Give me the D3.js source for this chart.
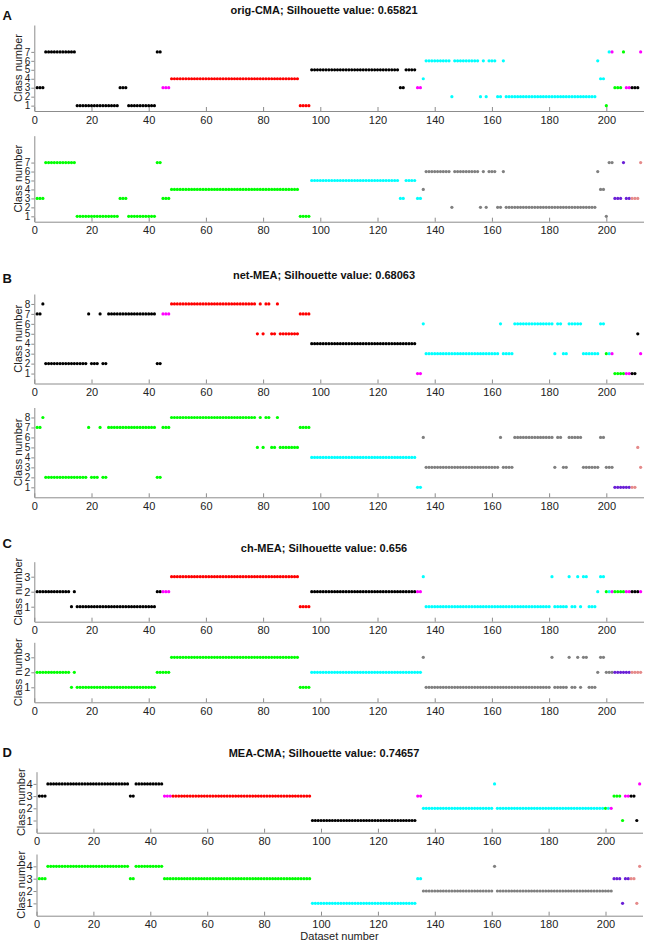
<!DOCTYPE html>
<html lang="en">
<head>
<meta charset="UTF-8">
<title>Class number per dataset</title>
<script src="https://cdn.jsdelivr.net/npm/d3@7/dist/d3.min.js"></script>
<style>
    body { margin: 0; background: #fff; }
    svg { display: block; font-family: "Liberation Sans", Arial, sans-serif; }
    .axis path, .axis line { stroke: #8c8c8c; stroke-width: 1; }
    .axis text { fill: #222; font-size: 11px; font-family: "Liberation Sans", Arial, sans-serif; }
    .axis.tight text { font-size: 10px; }
    .ylab { font-size: 11px; fill: #222; }
    .title { font-size: 11px; font-weight: bold; fill: #111; }
    .letter { font-size: 13px; font-weight: bold; fill: #111; }
</style>
</head>
<body>
<script>
    // [first dataset, last dataset, class number]
    const classRunsA = [[1,3,3],[4,14,7],[15,29,1],[30,32,3],[33,42,1],[43,44,7],[45,47,3],[48,92,4],[93,96,1],
        [97,127,5],[128,129,3],[130,133,5],[134,135,3],[136,136,4],[137,145,6],[146,146,2],[147,155,6],[156,156,2],
        [157,157,6],[158,158,2],[159,161,6],[162,163,2],[164,164,6],[165,196,2],[197,197,6],[198,199,4],[200,200,1],
        [201,202,7],[203,205,3],[206,206,7],[207,211,3],[212,212,7]];
    const classRunsB = [[1,2,7],[3,3,8],[4,18,2],[19,19,7],[20,22,2],[23,23,7],[24,25,2],[26,42,7],[43,44,2],
        [45,47,7],[48,77,8],[78,78,5],[79,79,8],[80,80,5],[81,82,8],[83,84,5],[85,85,8],[86,92,5],[93,96,7],
        [97,133,4],[134,135,1],[136,136,6],[137,162,3],[163,163,6],[164,167,3],[168,181,6],[182,182,3],[183,184,6],
        [185,186,3],[187,191,6],[192,197,3],[198,199,6],[200,202,3],[203,210,1],[211,211,5],[212,212,3]];
    const classRunsC = [[1,12,2],[13,13,1],[14,14,2],[15,42,1],[43,47,2],[48,92,3],[93,96,1],[97,135,2],
        [136,136,3],[137,180,1],[181,181,3],[182,186,1],[187,187,3],[188,189,1],[190,190,3],[191,191,1],
        [192,193,3],[194,196,1],[197,197,2],[198,199,3],[200,212,2]];
    const classRunsD = [[1,3,3],[4,32,4],[33,34,3],[35,44,4],[45,96,3],[97,133,1],[134,135,3],[136,160,2],
        [161,161,4],[162,202,2],[203,205,3],[206,206,1],[207,210,3],[211,211,1],[212,212,4]];

    // colour groups: upper plots and lower plots
    const upperGroups = [[1,44,'k'],[45,47,'m'],[48,96,'r'],[97,133,'k'],[134,135,'m'],[136,199,'c'],[200,200,'g'],
        [201,201,'c'],[202,202,'m'],[203,206,'g'],[207,208,'m'],[209,211,'k'],[212,212,'m']];
    const lowerGroups = [[1,96,'g'],[97,135,'c'],[136,202,'gray'],[203,208,'p'],[209,212,'s']];

    const titles = ['orig-CMA; Silhouette value: 0.65821', 'net-MEA; Silhouette value: 0.68063',
        'ch-MEA; Silhouette value: 0.656', 'MEA-CMA; Silhouette value: 0.74657'];
    const letters = ['A', 'B', 'C', 'D'];
    const xTicks = [0, 20, 40, 60, 80, 100, 120, 140, 160, 180, 200];

    const groupColor = {k: '#000000', m: '#ff00ff', r: '#ff0000', c: '#00ffff', g: '#00ff00',
        gray: '#808080', p: '#6a1fd6', s: '#e58a8a'};

    // geometry of the figure
    const width = 649, height = 943;
    const layout = [
        {runs: classRunsA, left: 34.3, right: 643.5, letterY: 20, titleY: 13.5, yDom: [0.4, 10], tight: true,
            subs: [{top: 25, bottom: 111}, {top: 135.7, bottom: 221.7}]},
        {runs: classRunsB, left: 34.3, right: 643.5, letterY: 283, titleY: 278.5, yDom: [0, 9], tight: true,
            subs: [{top: 294, bottom: 383.5}, {top: 407.5, bottom: 497.3}]},
        {runs: classRunsC, left: 34.3, right: 643.5, letterY: 548, titleY: 551.5, yDom: [0, 4], tight: false,
            subs: [{top: 561.7, bottom: 621.7}, {top: 642.3, bottom: 702.3}]},
        {runs: classRunsD, left: 36.5, right: 642.5, letterY: 757, titleY: 757, yDom: [0, 5], tight: false,
            subs: [{top: 771.7, bottom: 832.7}, {top: 854, bottom: 915.7}]}
    ];

    function expand(runs) {
        let out = [];
        runs.forEach(r => {
            for (let i = r[0]; i <= r[1]; i++) out.push({x: i, v: r[2]});
        });
        return out;
    }

    function groupOf(i, groups) {
        for (const g of groups) if (i >= g[0] && i <= g[1]) return g[2];
        return 'k';
    }

    let svg = d3.select('body').append('svg')
        .attr('width', width)
        .attr('height', height);

    layout.forEach((p, pi) => {
        let points = expand(p.runs);
        let maxClass = d3.max(points, d => d.v);
        let x = d3.scaleLinear().domain([0, 213]).range([p.left, p.right]);

        svg.append('text').attr('class', 'letter')
            .attr('x', 2.5).attr('y', p.letterY)
            .text(letters[pi]);
        svg.append('text').attr('class', 'title')
            .attr('x', 324).attr('y', p.titleY)
            .attr('text-anchor', 'middle')
            .text(titles[pi]);

        p.subs.forEach((s, si) => {
            let y = d3.scaleLinear().domain(p.yDom).range([s.bottom, s.top]);
            let groups = si === 0 ? upperGroups : lowerGroups;

            svg.append('g').attr('class', 'axis')
                .attr('transform', `translate(0,${s.bottom})`)
                .call(d3.axisBottom(x).tickValues(xTicks).tickFormat(d3.format('d'))
                    .tickSizeInner(-4).tickSizeOuter(0).tickPadding(5));

            svg.append('g').attr('class', p.tight ? 'axis tight' : 'axis')
                .attr('transform', `translate(${p.left},0)`)
                .call(d3.axisLeft(y).tickValues(d3.range(1, maxClass + 1)).tickFormat(d3.format('d'))
                    .tickSizeInner(3).tickSizeOuter(0).tickPadding(1));

            svg.append('text').attr('class', 'ylab')
                .attr('transform', `translate(${p.left - 12},${(s.top + s.bottom) / 2}) rotate(-90)`)
                .attr('text-anchor', 'middle')
                .text('Class number');

            svg.append('g').selectAll('circle')
                .data(points)
                .enter()
                .append('circle')
                .attr('cx', d => x(d.x))
                .attr('cy', d => y(d.v))
                .attr('r', 1.6)
                .attr('fill', d => groupColor[groupOf(d.x, groups)]);
        });
    });

    svg.append('text').attr('class', 'ylab')
        .attr('x', (layout[3].left + layout[3].right) / 2)
        .attr('y', 939.5)
        .attr('text-anchor', 'middle')
        .text('Dataset number');
</script>
</body>
</html>
